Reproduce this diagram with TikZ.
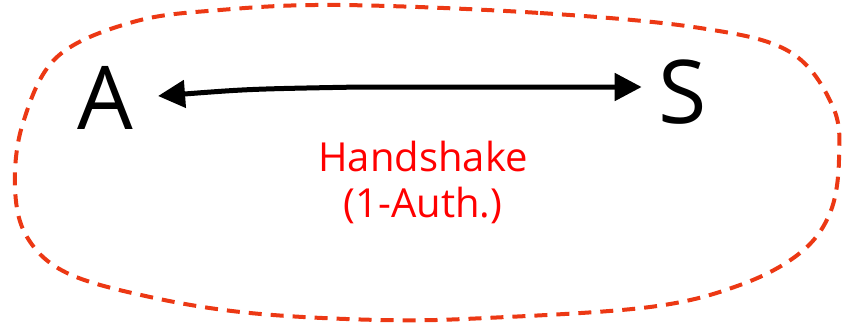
\documentclass[tikz,border=0pt]{standalone}
\usepackage{fontspec}
\setmainfont{Open Sans}
\usepackage{tikz}
\usetikzlibrary{arrows.meta,calc,positioning}
\definecolor{blobred}{RGB}{236,56,20}
\tikzset{
  party/.style={font=\fontsize{88}{90}\selectfont, inner sep=0pt},
  blob/.style={blobred, line width=4pt, dash pattern=on 13pt off 9pt},
  label/.style={red, font=\fontsize{40}{46}\selectfont, align=center, inner sep=0pt},
  tip/.tip={Triangle[length=27pt,width=27pt]}
}

\begin{document}
\begin{tikzpicture}[x=1pt,y=-1pt]
  \useasboundingbox (0,0) rectangle (844,324);
  % the dashed boundary
  \draw[blob] plot[smooth cycle,tension=0.6] coordinates {
    (340,5) (540,13) (700,28) (790,52) (833,107) (839,160) (830,213)
    (800,253) (740,285) (650,307) (486,318) (380,320) (250,313) (150,297)
    (67,273) (27,237) (15,187) (23,123) (57,57) (133,22) (220,10)};
  \node[party] (A) at (105,98) {A};
  \node[party] (S) at (683,92) {S};
  \coordinate (bend) at (360,87);
  \draw[tip-tip,line width=5pt] ([xshift=25pt,yshift=2pt]A.east) .. controls (250,89) .. (bend)
    -- ([xshift=-17pt,yshift=5pt]S.west);
  \node[label] (hs) at (423,182) {Handshake\\(1-Auth.)};
\end{tikzpicture}
\end{document}
